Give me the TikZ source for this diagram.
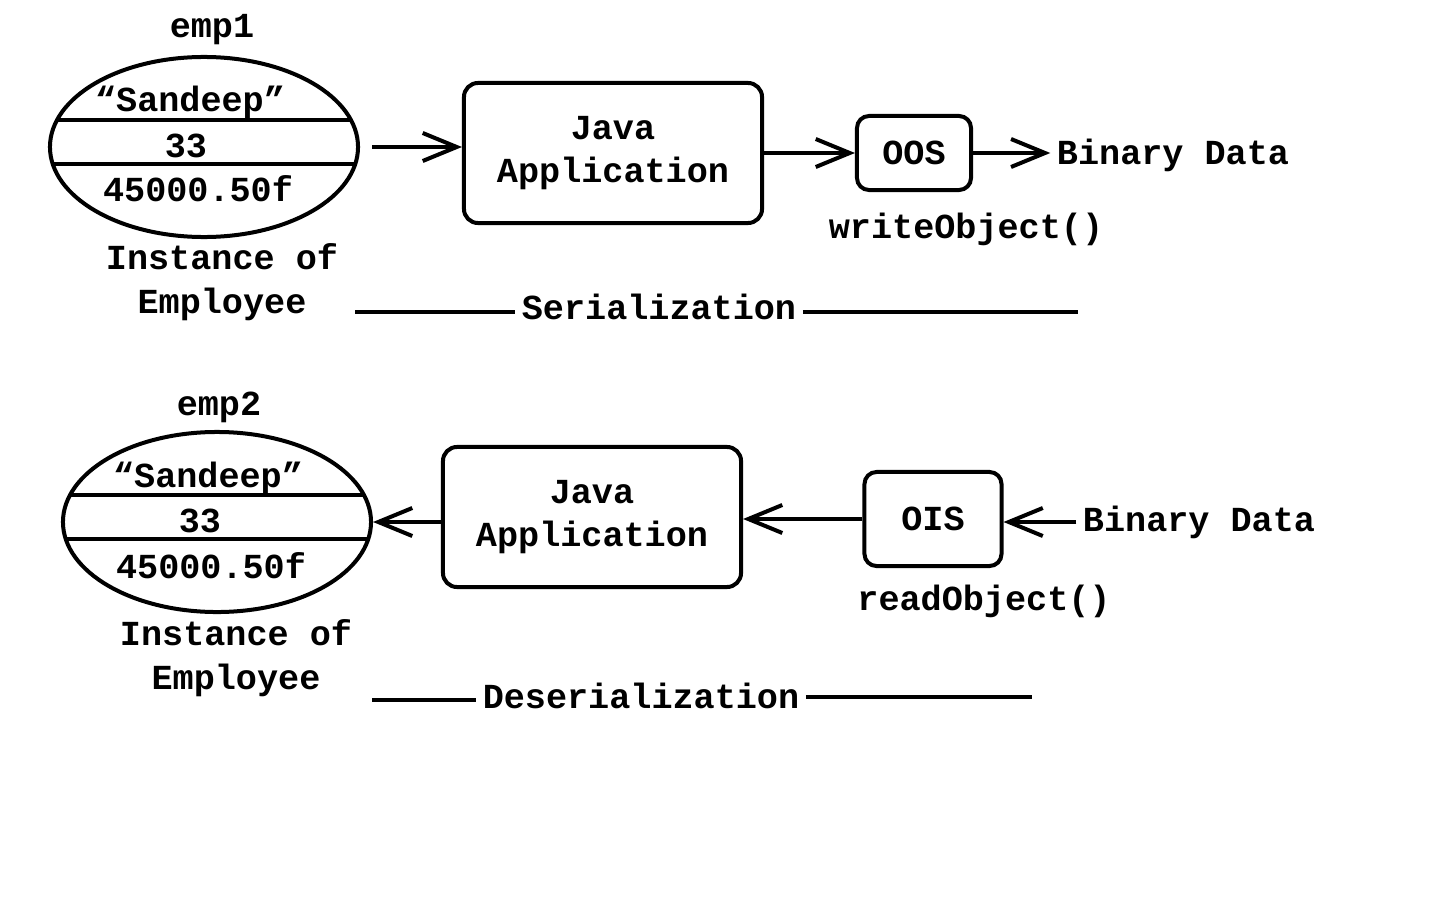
\documentclass[tikz,border=0pt]{standalone}
\usepackage{fontspec}
\setmainfont{Liberation Mono}
\usetikzlibrary{shapes, arrows.meta, positioning, calc}

\begin{document}
\begin{tikzpicture}[x=0.025cm, y=-0.025cm,
    every node/.style={font=\bfseries\fontsize{25}{31}\selectfont},
    line width=0.1cm,
    >={Straight Barb[length=0.85cm, width=0.7cm]},
    obj_node/.style={ellipse, draw, minimum width=7.7cm, minimum height=4.5cm, inner sep=0pt,
        path picture={
            \draw ($(path picture bounding box.center)+(-200,-27)$) -- ++(400,0);
            \draw ($(path picture bounding box.center)+(-200,17)$) -- ++(400,0);
        }},
    app_node/.style={rectangle, draw, rounded corners=0.35cm, align=center, minimum width=7.45cm, minimum height=3.5cm},
    stream_node/.style={rectangle, draw, rounded corners=0.3cm, minimum width=2.85cm, minimum height=1.85cm},
    ]
    \useasboundingbox (0,0) rectangle (1440,900);

    % Serialization
    \node (emp1) at (212,30) {emp1};
    \node[obj_node] (obj1) at (204,147) {};
    \node (name1) at (190,102) {“Sandeep”};
    \node (age1) at (186,146) {33};
    \node (sal1) at (198,189) {45000.50f};
    \node[align=center] (inst1) at (222,282) {Instance of\\Employee};
    \node[app_node] (app1) at (613,153) {Java\\Application};
    \node[stream_node] (oos) at (914,153) {OOS};
    \node (bin1) at (1173,155) {Binary Data};
    \node (wo) at (966,229) {writeObject()};
    \node (ser) at (659,307) {Serialization};
    \coordinate (s1) at (355,312);
    \coordinate (s2) at (1078,312);

    \draw[->, shorten <=0.3cm] (obj1.east) -- (obj1.east -| app1.west);
    \draw[->] (app1) -- (oos);
    \draw[->] (oos.east) -- (oos.east -| bin1.west);
    \draw (s1) -- (s1 -| ser.west);
    \draw (ser.east |- s2) -- (s2);

    % Deserialization
    \node (emp2) at (219,407) {emp2};
    \node[obj_node] (obj2) at (217,522) {};
    \node (name2) at (208,478) {“Sandeep”};
    \node (age2) at (200,521) {33};
    \node (sal2) at (211,566) {45000.50f};
    \node[align=center] (inst2) at (236,658) {Instance of\\Employee};
    \node[app_node] (app2) at (592,517) {Java\\Application};
    \node[stream_node, minimum width=3.425cm, minimum height=2.35cm] (ois) at (933,519) {OIS};
    \node (bin2) at (1199,522) {Binary Data};
    \node (ro) at (984,601) {readObject()};
    \node (deser) at (641,696) {Deserialization};
    \coordinate (d1) at (372,700);
    \coordinate (d2) at (1032,697);

    \draw[->] (obj2.east -| app2.west) -- (obj2.east);
    \draw[->] (ois.west) -- (ois.west -| app2.east);
    \draw[->] (bin2.west) -- (bin2.west -| ois.east);
    \draw (d1) -- (d1 -| deser.west);
    \draw (deser.east |- d2) -- (d2);
\end{tikzpicture}
\end{document}
